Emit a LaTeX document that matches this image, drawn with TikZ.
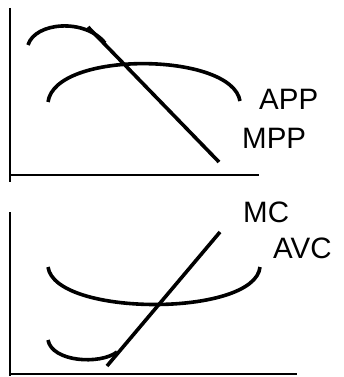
\documentclass[tikz,border=0pt]{standalone}
\usepackage{fontspec}
\setmainfont{Liberation Sans}
\begin{document}
\begin{tikzpicture}[x=1pt,y=-1pt,
  axis/.style={line width=1.3pt},
  curve/.style={line width=3.6pt},
  lbl/.style={inner sep=0pt,anchor=base west,font=\fontsize{29.5}{30}\selectfont}]
\useasboundingbox (0,0) rectangle (344,377);
% top panel
\coordinate (ty) at (10,8);
\coordinate (to) at (10,182);
\coordinate (txa) at (10,175);
\coordinate (txb) at (259,175);
\draw[axis] (ty) -- (to);
\draw[axis] (txa) -- (txb);
\coordinate (m0) at (28,45);
\coordinate (mj) at (105,43);
\coordinate (ma) at (88,27);
\coordinate (mb) at (219,162);
\draw[curve] (m0) .. controls (35,22) and (85,18) .. (mj);
\draw[curve] (ma) -- (mb);
\coordinate (a0) at (48,102);
\coordinate (a1) at (240,101);
\draw[curve] (a0) .. controls (55,50) and (232,52) .. (a1);
\node[lbl] (app) at (259,110) {APP};
\node[lbl] (mpp) at (242,148) {MPP};
% bottom panel
\coordinate (by) at (10,212);
\coordinate (bo) at (10,376);
\coordinate (bxa) at (10,374);
\coordinate (bxb) at (297,374);
\draw[axis] (by) -- (bo);
\draw[axis] (bxa) -- (bxb);
\coordinate (v0) at (48,267);
\coordinate (v1) at (260,267);
\draw[curve] (v0) .. controls (55,317) and (255,317) .. (v1);
\coordinate (c0) at (48,340);
\coordinate (cj) at (117,352);
\coordinate (ca) at (107,366);
\coordinate (cb) at (220,232);
\draw[curve] (c0) .. controls (52,362) and (100,365) .. (cj);
\draw[curve] (ca) -- (cb);
\node[lbl] (mc) at (243,222) {MC};
\node[lbl] (avc) at (273,258) {AVC};
\end{tikzpicture}
\end{document}
